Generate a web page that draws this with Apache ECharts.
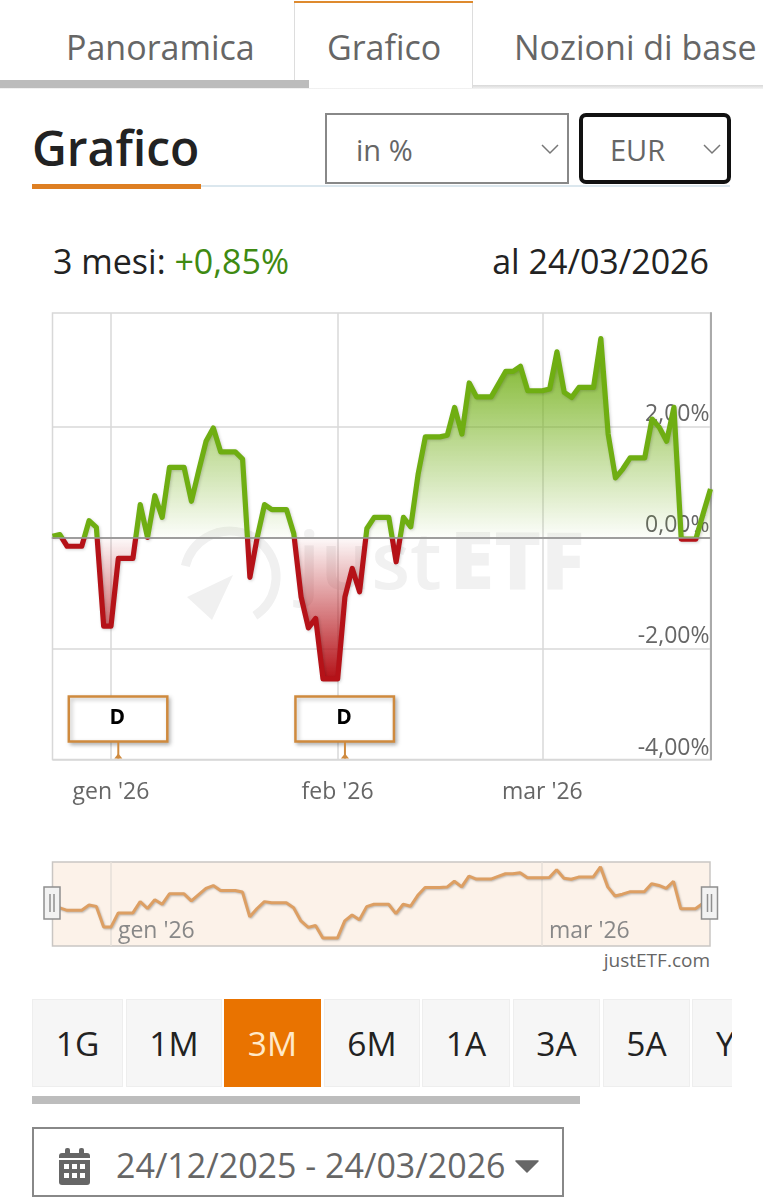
<!DOCTYPE html>
<html lang="it">
<head>
<meta charset="utf-8">
<title>Grafico</title>
<script src="https://cdn.jsdelivr.net/npm/echarts@6/dist/echarts.min.js"></script>
<style>
html,body{margin:0;padding:0;background:#fff;width:763px;height:1200px;overflow:hidden;font-family:"Open Sans",sans-serif}
#page{position:absolute;left:0;top:0;width:763px;height:1200px;overflow:hidden}
#chart{position:absolute;left:0;top:0;width:763px;height:1200px}
.a{position:absolute;white-space:nowrap}
.tab{font-size:34px;color:#666;top:26px;line-height:42px}
.btn{position:absolute;top:999px;height:86px;background:#f6f6f6;border:1px solid #eee;font-size:33.5px;color:#222;text-align:center;line-height:86px;box-sizing:content-box;overflow:hidden}
</style>
</head>
<body>
<div id="page">
  <div class="a" style="left:0;top:85px;width:763px;height:4px;background:linear-gradient(#d8d8d8,#f4f4f4)"></div>
  <div class="a" style="left:294px;top:3px;width:179px;height:85px;background:#fff;border-left:1px solid #ddd;border-right:1px solid #ddd;box-sizing:border-box"></div>
  <div class="a" style="left:0;top:80px;width:309px;height:8px;background:#bcbcbc"></div>
  <div class="a" style="left:294px;top:1px;width:179px;height:2px;background:#de8a2e"></div>
  <div class="a tab" style="left:66px">Panoramica</div>
  <div class="a tab" style="left:327px">Grafico</div>
  <div class="a tab" style="left:514px">Nozioni di base</div>

  <div class="a" style="left:32px;top:117px;font-size:48px;font-weight:600;color:#222;line-height:62px">Grafico</div>
  <div class="a" style="left:32px;top:185px;width:698px;height:2px;background:#dbe7ee"></div>
  <div class="a" style="left:32px;top:184px;width:169px;height:5px;background:#de7f22"></div>
  <div class="a" style="left:325px;top:113px;width:244px;height:71px;border:2px solid #888;box-sizing:border-box;background:#fff"></div>
  <div class="a" style="left:356px;top:130px;font-size:29px;color:#666;line-height:40px">in %</div>
  <svg class="a" style="left:541px;top:143px" width="18" height="12"><path d="M1 2 L9 10 L17 2" fill="none" stroke="#777" stroke-width="1.5"/></svg>
  <div class="a" style="left:579px;top:113px;width:152px;height:71px;border:4px solid #111;border-radius:7px;box-sizing:border-box;background:#fff"></div>
  <div class="a" style="left:610px;top:130px;font-size:29px;color:#666;line-height:40px">EUR</div>
  <svg class="a" style="left:703px;top:143px" width="18" height="12"><path d="M1 2 L9 10 L17 2" fill="none" stroke="#777" stroke-width="1.5"/></svg>

  <div class="a" style="left:53px;top:240px;font-size:34px;color:#222;line-height:42px">3 mesi: <span style="color:#3f8a12">+0,85%</span></div>
  <div class="a" style="right:54px;top:240px;font-size:34px;color:#222;line-height:42px">al 24/03/2026</div>

  <div class="a" style="right:53px;top:948px;font-size:19px;color:#666;line-height:24px">justETF.com</div>

  <div class="btn" style="left:32px;width:89px">1G</div>
  <div class="btn" style="left:126px;width:94px">1M</div>
  <div class="btn" style="left:224px;width:97px;background:#e97300;border:0;height:88px;line-height:88px;color:#ffe9c9">3M</div>
  <div class="btn" style="left:324px;width:94px">6M</div>
  <div class="btn" style="left:422px;width:86px">1A</div>
  <div class="btn" style="left:513px;width:85px">3A</div>
  <div class="btn" style="left:603px;width:85px">5A</div>
  <div class="btn" style="left:692px;width:39px;border-right:0;text-align:left;text-indent:23px">YTD</div>
  <div class="a" style="left:32px;top:1096px;width:548px;height:8px;background:#bdbdbd"></div>

  <div class="a" style="left:32px;top:1127px;width:532px;height:70px;border:2px solid #888;box-sizing:border-box"></div>
  <svg class="a" style="left:59px;top:1148px" width="31" height="37" viewBox="0 0 31 37">
    <rect x="0" y="5" width="31" height="32" rx="3" fill="#666"/>
    <rect x="6" y="0" width="5" height="9" rx="2" fill="#666"/><rect x="20" y="0" width="5" height="9" rx="2" fill="#666"/>
    <rect x="0" y="10" width="31" height="2" fill="#fff"/>
    <g fill="#fff"><rect x="5" y="16" width="5" height="5"/><rect x="13" y="16" width="5" height="5"/><rect x="21" y="16" width="5" height="5"/><rect x="5" y="25" width="5" height="5"/><rect x="13" y="25" width="5" height="5"/><rect x="21" y="25" width="5" height="5"/></g>
  </svg>
  <div class="a" style="left:116px;top:1142px;font-size:34px;color:#666;line-height:46px">24/12/2025 - 24/03/2026</div>
  <svg class="a" style="left:515px;top:1160px" width="24" height="13"><path d="M1 1 H23 L12 12 Z" fill="#666" stroke="#666" stroke-width="1.5" stroke-linejoin="round"/></svg>

  <div id="chart"></div>
</div>
<script>
// Calendar days from 24/12/2025 to 24/03/2026
const dates = [
 '2025-12-24','2025-12-25','2025-12-26','2025-12-27','2025-12-28','2025-12-29','2025-12-30','2025-12-31',
 '2026-01-01','2026-01-02','2026-01-03','2026-01-04','2026-01-05','2026-01-06','2026-01-07','2026-01-08','2026-01-09','2026-01-10','2026-01-11','2026-01-12','2026-01-13','2026-01-14','2026-01-15','2026-01-16','2026-01-17','2026-01-18','2026-01-19','2026-01-20','2026-01-21','2026-01-22','2026-01-23','2026-01-24','2026-01-25','2026-01-26','2026-01-27','2026-01-28','2026-01-29','2026-01-30','2026-01-31',
 '2026-02-01','2026-02-02','2026-02-03','2026-02-04','2026-02-05','2026-02-06','2026-02-07','2026-02-08','2026-02-09','2026-02-10','2026-02-11','2026-02-12','2026-02-13','2026-02-14','2026-02-15','2026-02-16','2026-02-17','2026-02-18','2026-02-19','2026-02-20','2026-02-21','2026-02-22','2026-02-23','2026-02-24','2026-02-25','2026-02-26','2026-02-27','2026-02-28',
 '2026-03-01','2026-03-02','2026-03-03','2026-03-04','2026-03-05','2026-03-06','2026-03-07','2026-03-08','2026-03-09','2026-03-10','2026-03-11','2026-03-12','2026-03-13','2026-03-14','2026-03-15','2026-03-16','2026-03-17','2026-03-18','2026-03-19','2026-03-20','2026-03-21','2026-03-22','2026-03-23','2026-03-24'
];
const performance = [
 0.02,0.05,-0.16,-0.16,-0.16,0.30,0.18,-1.60,
 -1.60,-0.38,-0.38,-0.38,0.59,0.00,0.75,0.36,1.26,1.26,1.26,0.65,1.20,1.73,1.97,1.54,1.54,1.54,1.41,-0.72,0.00,0.59,0.50,0.50,0.50,0.07,-1.07,-1.63,-1.46,-2.55,-2.55,
 -2.55,-1.07,-0.56,-0.98,0.16,0.36,0.36,0.36,-0.44,0.36,0.19,1.13,1.81,1.81,1.81,1.84,2.34,1.86,2.78,2.53,2.53,2.53,2.76,2.99,2.99,3.08,2.64,2.64,
 2.64,2.67,3.34,2.61,2.52,2.70,2.70,2.70,3.58,1.86,1.07,1.23,1.43,1.43,1.43,2.13,1.98,1.73,2.34,-0.03,-0.03,-0.03,0.43,0.87
];
const mainTicks = {'2026-01-01':"gen '26",'2026-02-01':"feb '26",'2026-03-01':"mar '26"};
const navTicks = {'2026-01-01':"gen '26",'2026-03-01':"mar '26"};
const yTicks = [-4,-2,0,2];
const flagDates = ['2026-01-02','2026-02-02'];
const flagText = 'D';
const FONT = '"Open Sans",sans-serif';

const isTick = map => (i, v) => Object.prototype.hasOwnProperty.call(map, v);
const top0 = Math.max(...performance), bot0 = Math.min(...performance);
const zeroAt = top0 / (top0 - bot0);

const chart = echarts.init(document.getElementById('chart'), null, {width:763, height:1200});
chart.setOption({
  animation:false,
  backgroundColor:'transparent',
  graphic:[
    {type:'arc',z:-1,silent:true,shape:{cx:230,cy:577,r:46,startAngle:-2.9,endAngle:1.0},style:{fill:'none',stroke:'#f0f0f0',lineWidth:9}},
    {type:'polygon',z:-1,silent:true,shape:{points:[[187,597],[233,575],[212,620]]},style:{fill:'#f0f0f0'}},
    {type:'text',z:-1,silent:true,style:{x:298,y:606,text:'just',font:'600 80px '+FONT,fill:'#f1f1f1',textVerticalAlign:'bottom'}},
    {type:'text',z:-1,silent:true,style:{x:450,y:606,text:'ETF',font:'800 80px '+FONT,fill:'#f1f1f1',textVerticalAlign:'bottom'}}
  ],
  grid:[
    {left:52.5,top:313,width:658,height:446.5,show:true,borderColor:'#d8d8d8',borderWidth:1.5,backgroundColor:'transparent'},
    {left:52.5,top:862,width:657.5,height:84,show:true,borderColor:'#c9c6c3',borderWidth:1.5,backgroundColor:'#fcf2e9'}
  ],
  xAxis:[
    {type:'category',gridIndex:0,data:dates,boundaryGap:false,
     axisLine:{lineStyle:{color:'#aaa',width:2}},axisTick:{show:false},
     axisLabel:{interval:isTick(mainTicks),formatter:v=>mainTicks[v]||'',color:'#666',fontFamily:FONT,fontSize:23,margin:21},
     splitLine:{show:true,interval:isTick(mainTicks),lineStyle:{color:'#d8d8d8',width:1.5}}},
    {type:'category',gridIndex:1,data:dates,boundaryGap:false,
     axisLine:{show:false},axisTick:{show:false},
     axisLabel:{inside:true,interval:isTick(navTicks),formatter:v=>navTicks[v]||'',align:'left',padding:[0,0,0,7],color:'#888',fontFamily:FONT,fontSize:23,margin:3},
     splitLine:{show:true,interval:isTick(navTicks),lineStyle:{color:'#e6dfd8',width:1.5}}}
  ],
  yAxis:[
    {type:'value',gridIndex:0,position:'right',min:-4,max:4.04,
     axisLine:{show:true,lineStyle:{color:'#aaa',width:2}},
     axisTick:{show:false,customValues:yTicks},
     axisLabel:{inside:true,customValues:yTicks,margin:1,verticalAlign:'bottom',color:'#666',fontFamily:FONT,fontSize:23,
       formatter:v=>v.toFixed(2).replace('.',',')+'%'},
     splitLine:{show:true,lineStyle:{color:'#d8d8d8',width:1.5}}},
    {type:'value',gridIndex:1,min:-3.23,max:4,show:false,splitLine:{show:false}}
  ],
  series:[
    {type:'line',name:'Performance',xAxisIndex:0,yAxisIndex:0,data:performance,symbol:'none',z:3,
     lineStyle:{width:5.2,join:'round',
       color:new echarts.graphic.LinearGradient(0,0,0,1,[
         {offset:0,color:'#6fae12'},{offset:zeroAt,color:'#6fae12'},
         {offset:zeroAt,color:'#b51218'},{offset:1,color:'#b51218'}]),
       shadowColor:'rgba(0,0,0,0.18)',shadowBlur:3,shadowOffsetX:1,shadowOffsetY:1},
     areaStyle:{origin:0,opacity:1,color:new echarts.graphic.LinearGradient(0,0,0,1,[
       {offset:0,color:'rgba(111,174,18,0.95)'},
       {offset:zeroAt,color:'rgba(111,174,18,0.02)'},
       {offset:zeroAt,color:'rgba(181,18,24,0.02)'},
       {offset:1,color:'rgba(181,18,24,1)'}])},
     markLine:{silent:true,symbol:'none',label:{show:false},animation:false,lineStyle:{color:'#9a9a9a',width:1.5,type:'solid'},data:[{yAxis:0}]}},
    {type:'custom',name:'Dividendi',xAxisIndex:0,yAxisIndex:0,z:4,clip:false,
     encode:{x:0,y:1},data:flagDates.map(d=>[d,-4]),
     renderItem:(params,api)=>{
       const p=api.coord([api.value(0),-4]);
       const x=p[0], y=p[1];
       const col='#cf8a3e';
       return {type:'group',children:[
         {type:'rect',shape:{x:x-49.5,y:y-63,width:98.5,height:45},
          style:{fill:'#fff',stroke:col,lineWidth:2.5,shadowColor:'rgba(0,0,0,0.25)',shadowBlur:4,shadowOffsetX:2,shadowOffsetY:2}},
         {type:'line',shape:{x1:x,y1:y-18,x2:x,y2:y-1},style:{stroke:col,lineWidth:2}},
         {type:'polygon',shape:{points:[[x-4,y-1],[x,y-6],[x+4,y-1]]},style:{fill:col}},
         {type:'text',style:{x:x-1,y:y-41,text:flagText,font:'700 21px '+FONT,fill:'#000',textAlign:'center',textVerticalAlign:'middle'}}
       ]};
     }},
    {type:'line',name:'Navigatore',xAxisIndex:1,yAxisIndex:1,data:performance,symbol:'none',z:3,
     lineStyle:{width:3,color:'#dd9f63',shadowColor:'rgba(0,0,0,0.25)',shadowBlur:2,shadowOffsetX:1,shadowOffsetY:1}},
    {type:'custom',name:'Maniglie',xAxisIndex:1,yAxisIndex:1,z:5,clip:false,
     encode:{x:0,y:1},data:[[dates[0],0],[dates[dates.length-1],0]],
     renderItem:(params,api)=>{
       const p=api.coord([api.value(0),0]);
       const x=p[0]-0.5, y=887;
       return {type:'group',children:[
         {type:'rect',shape:{x:x-8,y:y,width:16,height:32},style:{fill:'#f2f2f2',stroke:'#8f8f8f',lineWidth:1.5}},
         {type:'line',shape:{x1:x-2,y1:y+7,x2:x-2,y2:y+25},style:{stroke:'#8f8f8f',lineWidth:1.5}},
         {type:'line',shape:{x1:x+2,y1:y+7,x2:x+2,y2:y+25},style:{stroke:'#8f8f8f',lineWidth:1.5}}
       ]};
     }}
  ]
});
</script>
</body>
</html>
